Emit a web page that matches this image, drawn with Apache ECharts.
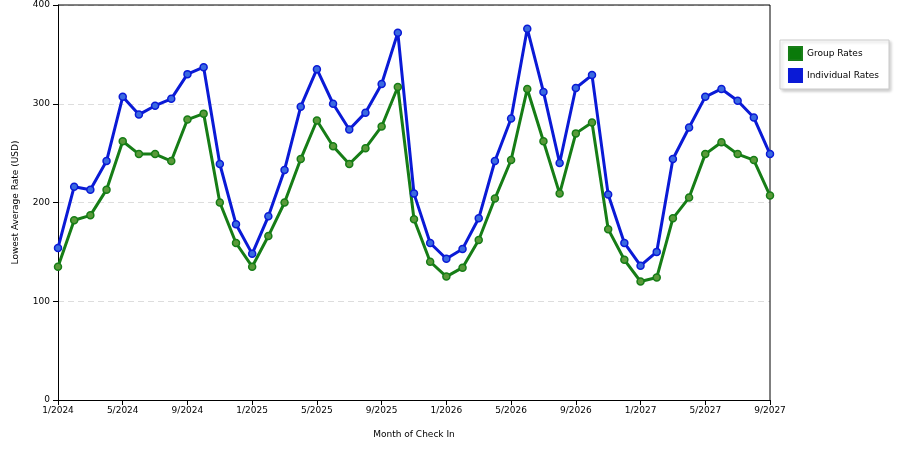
<!DOCTYPE html>
<html><head><meta charset="utf-8">
<script src="https://cdn.jsdelivr.net/npm/echarts@6/dist/echarts.min.js"></script>
<style>html,body{margin:0;padding:0;background:#fff}#c{width:900px;height:450px}</style>
</head><body><div id="c"></div>
<script>
const months = [];
for (let y = 2024; y <= 2027; y++) for (let m = 1; m <= 12; m++) { if (y === 2027 && m > 9) break; months.push(m + '/' + y); }
const groupRates = [135,182,187,213,262,249,249,242,284,290,200,159,135,166,200,244,283,257,239,255,277,317,183,140,125,134,162,204,243,315,262,209,270,281,173,142,120,124,184,205,249,261,249,243,207];
const individualRates = [154,216,213,242,307,289,298,305,330,337,239,178,148,186,233,297,335,300,274,291,320,372,209,159,143,153,184,242,285,376,312,240,316,329,208,159,136,150,244,276,307,315,303,286,249];
const chart = echarts.init(document.getElementById('c'));
const font = 'DejaVu Sans';
function ser(name, data, color, light) {
  return { name, type: 'line', data, symbol: 'circle', symbolSize: 7,
    lineStyle: { color, width: 3 }, itemStyle: { color: light, borderColor: color, borderWidth: 1.5 } };
}
chart.setOption({
  animation: false,
  textStyle: { fontFamily: font },
  grid: { left: 58, right: 130, top: 5, bottom: 50 },
  legend: { orient: 'vertical', right: 11, top: 40, itemWidth: 13, itemHeight: 13, itemGap: 7,
    padding: [6, 10, 6, 8], borderColor: '#ccc', borderWidth: 1, shadowColor: 'rgba(0,0,0,0.2)', shadowBlur: 3, shadowOffsetX: 2, shadowOffsetY: 2, backgroundColor: '#fff',
    textStyle: { fontSize: 9, fontFamily: font, color: '#000' },
    data: [{ name: 'Group Rates', icon: 'rect', itemStyle: { color: '#0a7a0a' } }, { name: 'Individual Rates', icon: 'rect', itemStyle: { color: '#0a1ad6' } }] },
  xAxis: { type: 'category', data: months, boundaryGap: false, name: 'Month of Check In', nameLocation: 'middle', nameGap: 30,
    nameTextStyle: { fontSize: 9, color: '#000' },
    axisLine: { lineStyle: { color: '#000' } },
    axisTick: { interval: 3, length: 5, lineStyle: { color: '#000' } },
    axisLabel: { interval: 3, fontSize: 9, color: '#000', margin: 6 }, splitLine: { show: false } },
  yAxis: { type: 'value', min: 0, max: 400, interval: 100, name: 'Lowest Average Rate (USD)', nameLocation: 'middle', nameGap: 38,
    nameTextStyle: { fontSize: 9, color: '#000' },
    axisLine: { show: true, lineStyle: { color: '#000' } }, axisTick: { show: true, length: 5, lineStyle: { color: '#000' } },
    axisLabel: { fontSize: 9, color: '#000' },
    splitLine: { lineStyle: { color: '#ddd', type: [6, 4] } } },
  series: [ser('Group Rates', groupRates, '#167d16', '#5a9a3a'), ser('Individual Rates', individualRates, '#0a1ad6', '#3a6ae0')]
});
chart.setOption({ graphic: [{ type: 'line', shape: { x1: 770, y1: 5, x2: 770, y2: 400 }, style: { stroke: '#000' } }, { type: 'line', shape: { x1: 58, y1: 5, x2: 770, y2: 5 }, style: { stroke: '#000' } }] });
</script></body></html>
